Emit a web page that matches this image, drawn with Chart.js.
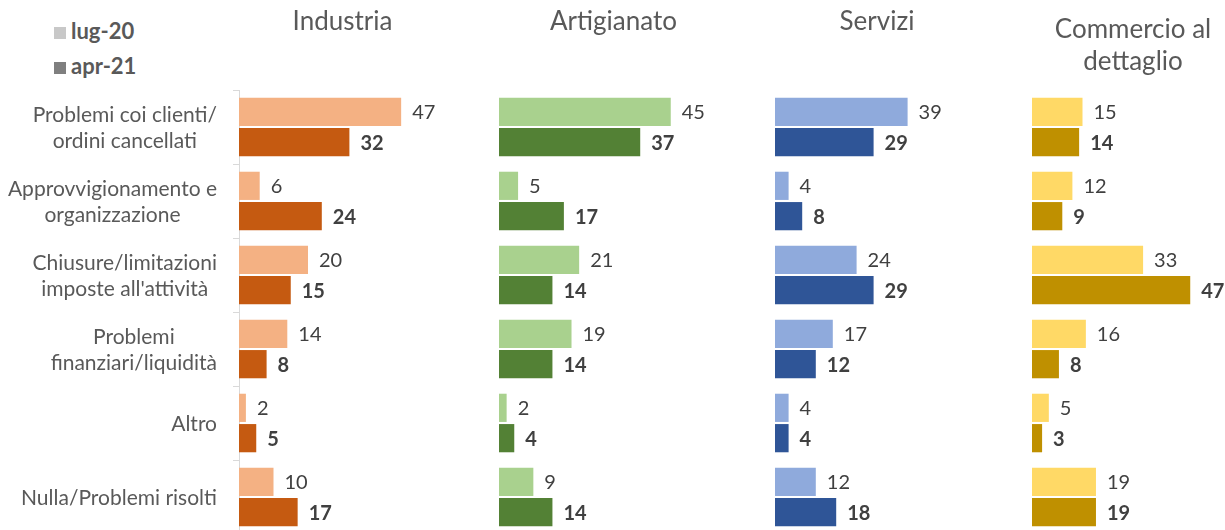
<!DOCTYPE html>
<html>
<head>
<meta charset="utf-8">
<script src="https://cdn.jsdelivr.net/npm/chart.js@4"></script>
<style>
  body { margin: 0; width: 1225px; height: 530px; overflow: hidden; background: #fff; font-family: Lato, sans-serif; }
  .box { position: absolute; top: 0; height: 534px; }
  .legend { position: absolute; left: 54px; color: #595959; font: bold 22px Lato, sans-serif; }
  .legend span { display: inline-block; width: 12px; height: 12px; margin-right: 5px; }
</style>
</head>
<body>
<div class="legend" style="top:17px"><span style="background:#c8c8c8"></span>lug-20</div>
<div class="legend" style="top:52px"><span style="background:#7f7f7f"></span>apr-21</div>
<div class="box" style="left:0;width:446px"><canvas id="c1"></canvas></div>
<div class="box" style="left:499px;width:229px"><canvas id="c2"></canvas></div>
<div class="box" style="left:775px;width:204px"><canvas id="c3"></canvas></div>
<div class="box" style="left:1032px;width:202px"><canvas id="c4"></canvas></div>
<script>
const categories = [
  ["Problemi coi clienti/", "ordini cancellati"],
  ["Approvvigionamento e", "organizzazione"],
  ["Chiusure/limitazioni", "imposte all'attività"],
  ["Problemi", "finanziari/liquidità"],
  ["Altro"],
  ["Nulla/Problemi risolti"]
];
const seriesNames = ["lug-20", "apr-21"];

const industriaLug = [47, 6, 20, 14, 2, 10];
const industriaApr = [32, 24, 15, 8, 5, 17];
const artigianatoLug = [45, 5, 21, 19, 2, 9];
const artigianatoApr = [37, 17, 14, 14, 4, 14];
const serviziLug = [39, 4, 24, 17, 4, 12];
const serviziApr = [29, 8, 29, 12, 4, 18];
const commercioLug = [15, 12, 33, 16, 5, 19];
const commercioApr = [14, 9, 47, 8, 3, 19];

// value at the end of each bar, apr-21 in bold
const valueLabels = {
  id: "valueLabels",
  afterDatasetsDraw(chart) {
    const ctx = chart.ctx;
    ctx.save();
    ctx.fillStyle = "#404040";
    ctx.textBaseline = "middle";
    ctx.textAlign = "left";
    chart.data.datasets.forEach((ds, i) => {
      ctx.font = (i === 1 ? "bold " : "") + "20px Lato, sans-serif";
      chart.getDatasetMeta(i).data.forEach((bar, j) => {
        ctx.fillText(ds.data[j], bar.x + 11, bar.y + 1);
      });
    });
    ctx.restore();
  }
};

// panel title centred over the plot area
const panelTitle = {
  id: "panelTitle",
  afterDraw(chart) {
    const o = chart.options.plugins.panelTitle;
    const ctx = chart.ctx, a = chart.chartArea;
    ctx.save();
    ctx.font = "26px Lato, sans-serif";
    ctx.fillStyle = "#595959";
    ctx.textAlign = "center";
    ctx.textBaseline = "middle";
    o.text.forEach((t, k) => ctx.fillText(t, (a.left + a.right) / 2, o.y + k * 32));
    ctx.restore();
  }
};

// category labels: block right-aligned, lines centered on each other
const catLabels = {
  id: "catLabels",
  afterDraw(chart) {
    if (!chart.options.plugins.catLabels.show) return;
    const ctx = chart.ctx, y = chart.scales.y;
    ctx.save();
    ctx.font = "21px Lato, sans-serif";
    ctx.fillStyle = "#595959";
    ctx.textAlign = "center";
    ctx.textBaseline = "middle";
    const right = 217, lh = 26;
    categories.forEach((lines, i) => {
      const w = Math.max(...lines.map(l => ctx.measureText(l).width));
      const cx = right - w / 2;
      const cy = y.getPixelForValue(i);
      lines.forEach((l, k) => {
        ctx.fillText(l, cx, cy + 1 + (k - (lines.length - 1) / 2) * lh);
      });
    });
    ctx.restore();
  }
};

function makeChart(id, title, lug, apr, light, dark, max, first, titleY) {
  return new Chart(document.getElementById(id), {
    type: "bar",
    data: {
      labels: categories,
      datasets: [
        { label: seriesNames[0], data: lug, backgroundColor: light },
        { label: seriesNames[1], data: apr, backgroundColor: dark }
      ]
    },
    options: {
      indexAxis: "y",
      responsive: true,
      maintainAspectRatio: false,
      animation: false,
      layout: { padding: { top: 90, left: 0, right: 0, bottom: 0 } },
      categoryPercentage: 0.82,
      barPercentage: 0.93,
      plugins: {
        legend: { display: false },
        tooltip: { enabled: false },
        title: { display: false },
        catLabels: { show: first },
        panelTitle: { text: title, y: titleY }
      },
      scales: {
        x: { display: false, min: 0, max: max },
        y: {
          display: first,
          afterFit: (s) => { if (first) s.width = 239; },
          border: { display: true, color: "#d9d9d9" },
          grid: { drawOnChartArea: false, drawTicks: true, tickLength: 6, color: "#d9d9d9", offset: true },
          ticks: { display: false }
        }
      }
    },
    plugins: [valueLabels, catLabels, panelTitle]
  });
}

makeChart("c1", ["Industria"], industriaLug, industriaApr, "#F4B183", "#C55A11", 60, true, 22);
makeChart("c2", ["Artigianato"], artigianatoLug, artigianatoApr, "#A9D18E", "#538135", 60, false, 22);
makeChart("c3", ["Servizi"], serviziLug, serviziApr, "#8FAADC", "#2F5597", 60, false, 22);
makeChart("c4", ["Commercio al", "dettaglio"], commercioLug, commercioApr, "#FFD966", "#BF9000", 60, false, 30);
</script>
</body>
</html>
